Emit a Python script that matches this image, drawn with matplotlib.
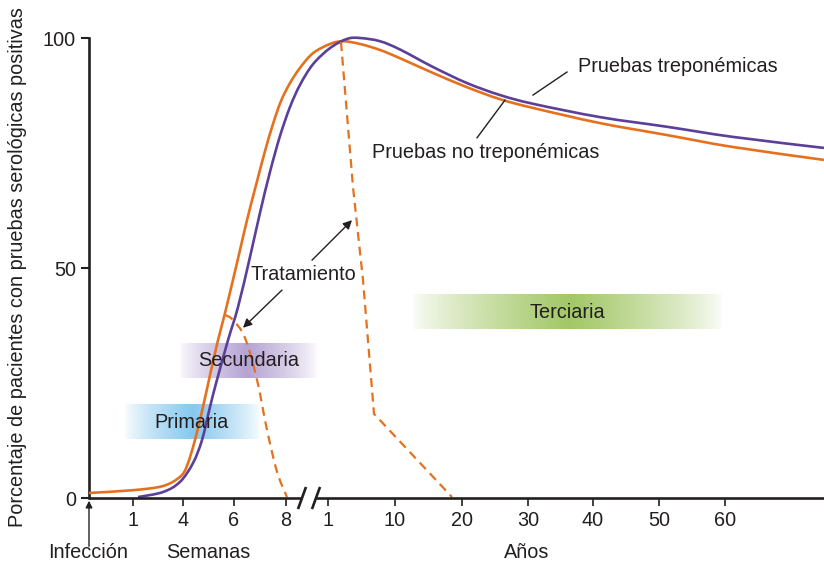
import numpy as np
import matplotlib
matplotlib.use("Agg")
import matplotlib.pyplot as plt
from matplotlib.colors import to_rgb
from matplotlib.path import Path
from matplotlib.patches import PathPatch

plt.rcParams['font.family'] = ['Liberation Sans', 'DejaVu Sans']

# ---------------- data (x in chart position units, y in %) ----------------
nontrep_x = [0, 44, 74, 91, 98, 106, 114, 121, 129, 136, 148, 158, 167, 176, 184,
             192, 201, 211, 224, 241, 254, 271, 291, 311, 344, 378, 411, 444, 511,
             578, 644, 735]
nontrep_y = [1.1, 1.7, 2.6, 4.6, 7.0, 12.6, 19.8, 26.7, 34.3, 40.2, 51.1, 60.4, 68.0,
             75.4, 81.3, 86.3, 90.2, 93.5, 96.7, 98.7, 99.3, 98.7, 97.4, 95.6, 92.4,
             89.3, 86.7, 84.8, 81.5, 78.9, 76.3, 73.5]

trep_x = [49, 74, 91, 104, 113, 121, 128, 139, 149, 161, 171, 181, 191, 201, 211,
          224, 241, 258, 271, 291, 311, 344, 378, 411, 444, 511, 578, 644, 735]
trep_y = [0.2, 1.3, 3.5, 7.6, 12.6, 19.8, 25.7, 34.3, 41.5, 52.4, 62.0, 70.9, 78.7,
          85.0, 89.8, 94.3, 97.8, 99.8, 100.0, 99.3, 97.5, 93.7, 90.2, 87.6, 85.7,
          82.8, 80.7, 78.5, 76.1]

treat_early_x = [136, 144, 156, 168, 178, 188, 198]
treat_early_y = [39.8, 38.7, 34.8, 25.7, 14.8, 5.7, 0.2]

treat_late_x = [252, 264, 274, 285, 363]
treat_late_y = [99.1, 67.6, 47.4, 18.3, 0.2]

tick_pos = [44, 94, 145, 197, 239, 306, 373, 439, 504, 570, 636]
tick_labels = ['1', '4', '6', '8', '1', '10', '20', '30', '40', '50', '60']
ytick_vals = [0, 50, 100]

stages = ['Primaria', 'Secundaria', 'Terciaria']
stage_colors = ['#86c8ee', '#b5a3d4', '#a2c765']
stage_x0 = [36, 91, 324]
stage_x1 = [171, 228, 633]
stage_peak = [104, 158, 481]
stage_y0 = [12.8, 26.1, 36.7]
stage_y1 = [20.2, 33.7, 44.1]

ORANGE = '#e5711f'
PURPLE = '#5b3f98'
TXT = '#231f20'
FS = 14.3


def smooth_path(xs, ys):
    """Catmull-Rom curve through the points, as a cubic Bezier path."""
    p = np.column_stack([xs, ys]).astype(float)
    n = len(p)
    verts = [p[0]]
    codes = [Path.MOVETO]
    for i in range(n - 1):
        p0 = p[i - 1] if i > 0 else p[i]
        p1, p2 = p[i], p[i + 1]
        p3 = p[i + 2] if i + 2 < n else p[i + 1]
        c1 = p1 + (p2 - p0) / 6.0
        c2 = p2 - (p3 - p1) / 6.0
        verts += [c1, c2, p2]
        codes += [Path.CURVE4] * 3
    return Path(verts, codes)


def add_curve(ax, xs, ys, color, lw, ls='-', smooth=True):
    if smooth:
        patch = PathPatch(smooth_path(xs, ys), facecolor='none', edgecolor=color,
                          lw=lw, ls=ls, zorder=3, clip_on=False, capstyle='butt')
        ax.add_patch(patch)
    else:
        ax.plot(xs, ys, color=color, lw=lw, ls=ls, zorder=3, clip_on=False)


fig = plt.figure(figsize=(8.24, 5.65), dpi=100)
W, H = 824, 565
ax = fig.add_axes([89 / W, 1 - 498 / H, (824 - 89) / W, (498 - 38) / H])

# stage bands with horizontal gradient
for name, c, x0, x1, xp, y0, y1 in zip(stages, stage_colors, stage_x0, stage_x1,
                                        stage_peak, stage_y0, stage_y1):
    xs = np.linspace(x0, x1, 300)
    a = np.where(xs < xp, (xs - x0) / (xp - x0), (x1 - xs) / (x1 - xp))
    a = np.clip(a, 0, 1) ** 0.8
    rgba = np.zeros((1, len(xs), 4))
    rgba[..., :3] = to_rgb(c)
    rgba[..., 3] = 0.04 + 0.96 * a
    ax.imshow(rgba, extent=[x0, x1, y0, y1], aspect='auto', zorder=1,
              interpolation='bilinear')
    ax.text((x0 + x1) / 2 if name != 'Primaria' else xp - 2, (y0 + y1) / 2, name,
            ha='center', va='center', fontsize=FS, color=TXT, zorder=5)
ax.set_xlim(0, 735)
ax.set_ylim(0, 100)

# curves
add_curve(ax, nontrep_x, nontrep_y, ORANGE, 1.9)
add_curve(ax, trep_x, trep_y, PURPLE, 1.9)
add_curve(ax, treat_early_x, treat_early_y, ORANGE, 1.6, ls=(0, (4, 2.6)))
add_curve(ax, treat_late_x, treat_late_y, ORANGE, 1.6, ls=(0, (4, 2.6)), smooth=False)

# spines / axes
for s in ['top', 'right', 'bottom']:
    ax.spines[s].set_visible(False)
ax.spines['left'].set_linewidth(1.9)
ax.spines['left'].set_color(TXT)

# broken x axis
ax.plot([0, 213], [0, 0], color=TXT, lw=1.9, clip_on=False, zorder=4,
        solid_capstyle='butt')
ax.plot([227, 735], [0, 0], color=TXT, lw=1.9, clip_on=False, zorder=4,
        solid_capstyle='butt')
for xc in [213, 227]:
    ax.plot([xc - 4, xc + 4], [-2.4, 2.4], color=TXT, lw=1.9, clip_on=False,
            zorder=4, solid_capstyle='butt')

ax.set_xticks(tick_pos)
ax.set_xticklabels(tick_labels)
ax.set_yticks(ytick_vals)
ax.set_yticklabels([str(v) for v in ytick_vals])
ax.tick_params(axis='x', direction='out', length=5.5, width=1.2, color=TXT,
               labelsize=FS, labelcolor=TXT, pad=4)
ax.tick_params(axis='y', direction='out', length=5.5, width=1.5, color=TXT,
               labelsize=FS, labelcolor=TXT, pad=4)

# infection arrow
ax.annotate('', xy=(0, -0.6), xytext=(0, -10.5), xycoords='data',
            arrowprops=dict(arrowstyle='-|>', color=TXT, lw=1.0,
                            mutation_scale=10, shrinkA=0, shrinkB=0),
            annotation_clip=False)

# curve labels and leaders
ax.text(489, 93.7, 'Pruebas treponémicas', ha='left', va='center', fontsize=FS,
        color=TXT, zorder=5)
ax.plot([478, 444], [92.6, 87.6], color=TXT, lw=1.0, zorder=5)
ax.text(283, 75.0, 'Pruebas no treponémicas', ha='left', va='center', fontsize=FS,
        color=TXT, zorder=5)
ax.plot([388, 416], [78.3, 86.5], color=TXT, lw=1.0, zorder=5)

ax.text(214, 48.5, 'Tratamiento', ha='center', va='center', fontsize=FS,
        color=TXT, zorder=5)
for (tx, ty), (hx, hy) in [((223, 51.7), (263, 60.4)), ((193, 45.2), (154, 37.0))]:
    ax.annotate('', xy=(hx, hy), xytext=(tx, ty),
                arrowprops=dict(arrowstyle='-|>', color=TXT, lw=1.0,
                                mutation_scale=13, shrinkA=0, shrinkB=0),
                zorder=5)

# axis group labels
fig.text(88 / W, 1 - 552 / H, 'Infección', ha='center', va='center', fontsize=FS,
         color=TXT)
fig.text(208 / W, 1 - 552 / H, 'Semanas', ha='center', va='center', fontsize=FS,
         color=TXT)
fig.text(527 / W, 1 - 552 / H, 'Años', ha='center', va='center', fontsize=FS,
         color=TXT)
fig.text(18 / W, 1 - 267 / H,
         'Porcentaje de pacientes con pruebas serológicas positivas',
         rotation=90, ha='center', va='center', fontsize=FS, color=TXT)

fig.savefig('out.png', dpi=100)
